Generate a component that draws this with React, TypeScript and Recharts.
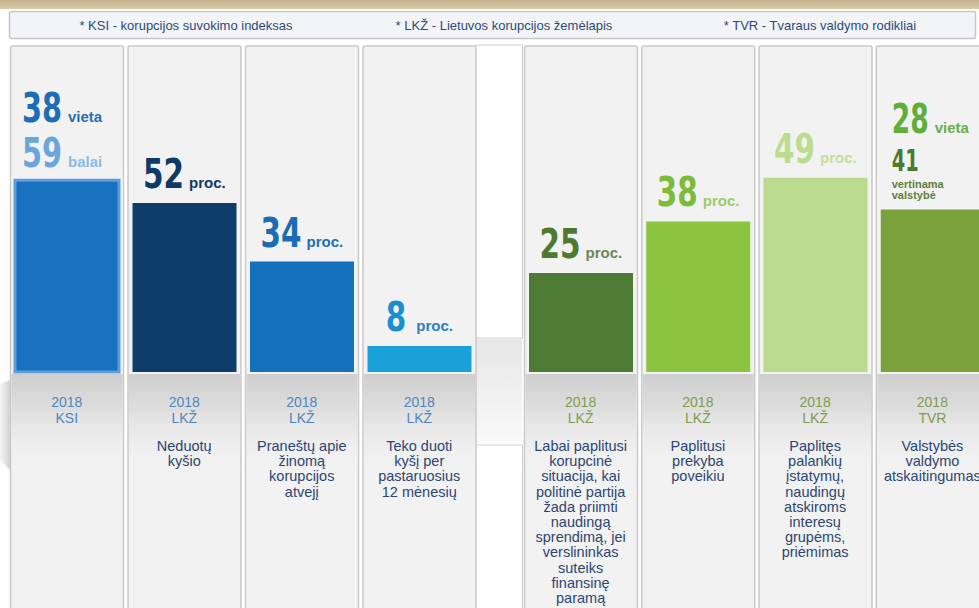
import React from 'react';
import { BarChart, Bar, XAxis, YAxis, LabelList, Cell } from 'recharts';

const legendNotes = [
  '* KSI - korupcijos suvokimo indeksas',
  '* LKŽ - Lietuvos korupcijos žemėlapis',
  '* TVR - Tvaraus valdymo rodikliai',
];

// left (blue) group
const leftYears = ['2018', '2018', '2018', '2018'];
const leftSources = ['KSI', 'LKŽ', 'LKŽ', 'LKŽ'];
const leftValues = [59, 52, 34, 8];
const leftRanks: (number | null)[] = [38, null, null, null];
const leftUnits = ['balai', 'proc.', 'proc.', 'proc.'];
const leftNotes: string[][] = [
  [],
  ['Neduotų', 'kyšio'],
  ['Praneštų apie', 'žinomą', 'korupcijos', 'atvejį'],
  ['Teko duoti', 'kyšį per', 'pastaruosius', '12 mėnesių'],
];

// right (green) group
const rightYears = ['2018', '2018', '2018', '2018'];
const rightSources = ['LKŽ', 'LKŽ', 'LKŽ', 'TVR'];
const rightValues = [25, 38, 49, 41];
const rightRanks: (number | null)[] = [null, null, null, 28];
const rightUnits = ['proc.', 'proc.', 'proc.', 'vertinama valstybė'];
const rightNotes: string[][] = [
  ['Labai paplitusi', 'korupcinė', 'situacija, kai', 'politinė partija', 'žada priimti', 'naudingą', 'sprendimą, jei', 'verslininkas', 'suteiks', 'finansinę', 'paramą'],
  ['Paplitusi', 'prekyba', 'poveikiu'],
  ['Paplitęs', 'palankių', 'įstatymų,', 'naudingų', 'atskiroms', 'interesų', 'grupėms,', 'priėmimas'],
  ['Valstybės', 'valdymo', 'atskaitingumas'],
];

const leftBarColors = ['#1771bf', '#0e3c6b', '#1571bb', '#1ba1d9'];
const leftNumColors = ['#6aa6dc', '#0e3a66', '#1a6db5', '#1a8fd0'];
const leftUnitColors = ['#8bbbe6', '#0e3a66', '#1f6fb5', '#2d80c2'];
const rightBarColors = ['#4e7b35', '#8bc43f', '#badb8d', '#7aa13c'];
const rightNumColors = ['#4d7a30', '#7cbc38', '#bcdc90', '#4b7a2d'];
const rightUnitColors = ['#6b8a55', '#9ccc6a', '#c4dea0', '#5d7f3a'];

const NUM_FONT = "'DejaVu Sans', 'Liberation Sans', sans-serif";
const TEXT_FONT = "'Liberation Sans', Arial, sans-serif";
const DIGIT = 0.696; // DejaVu Sans Bold digit advance, em

const H = 608;
const TOP = 47;
const PLOT_H = 325;

const leftData = leftValues.map((v, i) => ({ name: `L${i}`, value: v }));
const rightData = rightValues.map((v, i) => ({ name: `R${i}`, value: v }));

const Panel = (props: any) => {
  const { x, y, width, height } = props;
  const px = x - 4.5;
  const pw = width + 9;
  const bottom = y + height;
  return (
    <g>
      <rect x={px} y={y - 1} width={pw} height={H - y + 10} rx={2} fill="#f2f2f2" stroke="#c9c9c9" strokeWidth={1.5} />
      <rect x={px + 1} y={bottom + 2} width={pw - 2} height={100} fill="url(#fold)" />
    </g>
  );
};

function makeTick(years: string[], sources: string[], notes: string[][], yearColor: string) {
  return (props: any) => {
    const { x, y, payload } = props;
    const i = payload.index;
    return (
      <g fontFamily={TEXT_FONT} textAnchor="middle">
        <text x={x} y={y + 35} fontSize={14} fill={yearColor}>
          <tspan x={x}>{years[i]}</tspan>
          <tspan x={x} dy={16}>{sources[i]}</tspan>
        </text>
        {notes[i].length > 0 && (
          <text x={x} y={y + 79} fontSize={14.5} fill="#2b4672">
            {notes[i].map((line, k) => (
              <tspan key={k} x={x} dy={k === 0 ? 0 : 15.2}>{line}</tspan>
            ))}
          </text>
        )}
      </g>
    );
  };
}

// condensed look: squeeze the glyphs horizontally to w px per digit
const Num = ({ x, y, v, size, w, fill }: any) => (
  <text transform={`translate(${x} ${y}) scale(${w / (DIGIT * size)} 1)`} fontFamily={NUM_FONT} fontWeight={700}
    fontSize={size} fill={fill}>{v}</text>
);
const Unit = ({ x, y, t, size, fill }: any) => (
  <text x={x} y={y} fontFamily={TEXT_FONT} fontWeight={700} fontSize={size} fill={fill}>{t}</text>
);

function makeLabel(ranks: (number | null)[], units: string[], numColors: string[], unitColors: string[], rankColor: string) {
  return (props: any) => {
    const { x, y, width, value, index } = props;
    const rank = ranks[index];
    if (rank !== null) {
      const unitLines = units[index].split(' ');
      if (unitLines.length > 1) {
        const lx = x + 11;
        return (
          <g>
            <Num x={lx} y={y - 77} v={rank} size={40} w={18.5} fill={rankColor} />
            <Unit x={lx + 43} y={y - 77} t="vieta" size={15} fill="#6aae4a" />
            <Num x={lx} y={y - 39} v={value} size={30} w={13.5} fill={numColors[index]} />
            <text x={lx} y={y - 22} fontFamily={TEXT_FONT} fontWeight={700} fontSize={11} fill={unitColors[index]}>
              {unitLines.map((u, k) => (
                <tspan key={k} x={lx} dy={k === 0 ? 0 : 11}>{u}</tspan>
              ))}
            </text>
          </g>
        );
      }
      const lx = x + 7;
      return (
        <g>
          <Num x={lx} y={y - 58} v={rank} size={40} w={20} fill={rankColor} />
          <Unit x={lx + 46} y={y - 58} t="vieta" size={15} fill="#2a6db0" />
          <Num x={lx} y={y - 13} v={value} size={40} w={20} fill={numColors[index]} />
          <Unit x={lx + 46} y={y - 13} t={units[index]} size={15} fill={unitColors[index]} />
        </g>
      );
    }
    const numW = String(value).length * 20.5;
    const gap = value < 10 ? 10 : 5;
    const unitW = 37;
    const x0 = x + width / 2 - (numW + gap + unitW) / 2;
    return (
      <g>
        <Num x={x0} y={y - 15} v={value} size={40} w={20.5} fill={numColors[index]} />
        <Unit x={x0 + numW + gap} y={y - 15} t={units[index]} size={15} fill={unitColors[index]} />
      </g>
    );
  };
}

export default function App() {
  return (
    <div style={{ position: 'relative', width: 979, height: H, overflow: 'hidden', background: '#ffffff' }}>
      <style>{'body{margin:0}'}</style>
      <svg width={979} height={H} style={{ position: 'absolute', left: 0, top: 0 }}>
        <defs>
          <linearGradient id="band" x1="0" y1="0" x2="0" y2="1">
            <stop offset="0" stopColor="#c4b28c" />
            <stop offset="1" stopColor="#d9cbaa" />
          </linearGradient>
          <linearGradient id="fold" x1="0" y1="0" x2="0" y2="1">
            <stop offset="0" stopColor="#cfcfcf" />
            <stop offset="0.35" stopColor="#dedede" />
            <stop offset="1" stopColor="#f2f2f2" stopOpacity={0} />
          </linearGradient>
          <linearGradient id="mid" x1="0" y1="0" x2="0" y2="1">
            <stop offset="0" stopColor="#e6e6e6" />
            <stop offset="1" stopColor="#fafafa" />
          </linearGradient>
          <linearGradient id="side" x1="1" y1="0" x2="0" y2="0">
            <stop offset="0" stopColor="#d2d2d2" />
            <stop offset="1" stopColor="#f4f4f4" />
          </linearGradient>
        </defs>
        <rect x={0} y={0} width={979} height={9} fill="url(#band)" />
        <rect x={9.5} y={11.5} width={966} height={27} rx={2} fill="#f3f4f7" stroke="#c6c6c6" strokeWidth={1.5} />
        {legendNotes.map((t, i) => (
          <text key={i} x={[186, 504, 820][i]} y={30} textAnchor="middle" fontFamily={TEXT_FONT} fontSize={13} fill="#2b4a7c">{t}</text>
        ))}
        <path d="M0 384 L10 380 L10 470 L0 460 Z" fill="url(#side)" />
        <rect x={475.5} y={45} width={47} height={293} fill="#ffffff" stroke="#cfcfcf" strokeWidth={1} />
        <path d="M476 339 L522 339 L522 444 L476 444 Z" fill="url(#mid)" />
        <rect x={475.5} y={445} width={47} height={170} fill="#ffffff" stroke="#cfcfcf" strokeWidth={1} />
      </svg>
      <div style={{ position: 'absolute', left: 0, top: 0 }}>
        <BarChart width={478} height={H} data={leftData} margin={{ top: TOP, right: 0, bottom: 0, left: 8 }} barSize={104}>
          <YAxis hide domain={[0, 100]} />
          <XAxis dataKey="name" height={H - TOP - PLOT_H} axisLine={false} tickLine={false} tickSize={0} tickMargin={0} interval={0}
            tick={makeTick(leftYears, leftSources, leftNotes, '#4f86c0')} />
          <Bar dataKey="value" isAnimationActive={false} background={Panel}>
            {leftData.map((d, i) => (
              <Cell key={d.name} fill={leftBarColors[i]} stroke={i === 0 ? '#5d9edb' : 'none'} strokeWidth={i === 0 ? 3 : 0} />
            ))}
            <LabelList dataKey="value" content={makeLabel(leftRanks, leftUnits, leftNumColors, leftUnitColors, '#1c6db5')} />
          </Bar>
        </BarChart>
      </div>
      <div style={{ position: 'absolute', left: 522, top: 0 }}>
        <BarChart width={469} height={H} data={rightData} margin={{ top: TOP, right: 0, bottom: 0, left: 0 }} barSize={104}>
          <YAxis hide domain={[0, 82]} />
          <XAxis dataKey="name" height={H - TOP - PLOT_H} axisLine={false} tickLine={false} tickSize={0} tickMargin={0} interval={0}
            tick={makeTick(rightYears, rightSources, rightNotes, '#7f9d4c')} />
          <Bar dataKey="value" isAnimationActive={false} background={Panel}>
            {rightData.map((d, i) => (
              <Cell key={d.name} fill={rightBarColors[i]} />
            ))}
            <LabelList dataKey="value" content={makeLabel(rightRanks, rightUnits, rightNumColors, rightUnitColors, '#5fae3a')} />
          </Bar>
        </BarChart>
      </div>
    </div>
  );
}
